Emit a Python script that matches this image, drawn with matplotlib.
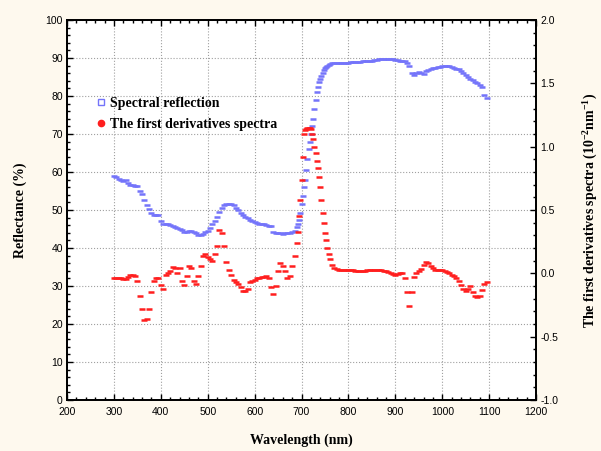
import numpy as np
import matplotlib
matplotlib.use('Agg')
import matplotlib.pyplot as plt
from matplotlib.lines import Line2D
from matplotlib.ticker import MultipleLocator, FormatStrFormatter

matplotlib.rcParams['mathtext.fontset'] = 'custom'
matplotlib.rcParams['mathtext.rm'] = 'Liberation Serif:bold'
matplotlib.rcParams['mathtext.bf'] = 'Liberation Serif:bold'

# wavelengths (nm); denser on the red-edge rise
wavelength = np.concatenate([np.arange(300, 690, 5),
                             np.arange(690, 760, 2.5),
                             np.arange(760, 1100, 5)])

# spectral reflection (%), left axis
reflectance = [
    # 300 - 685
    58.9, 58.8, 58.3, 57.8, 57.6, 57.8, 57.2, 56.6, 56.5, 56.4,
    56.2, 55.0, 54.1, 52.7, 51.3, 50.2, 49.3, 48.8, 48.7, 48.6,
    47.0, 46.4, 46.2, 46.2, 46.1, 45.8, 45.5, 45.3, 45.1, 44.8,
    44.2, 44.3, 44.6, 44.6, 44.3, 44.0, 43.5, 43.4, 43.8, 44.3,
    44.6, 45.3, 46.3, 47.2, 48.2, 49.4, 50.6, 51.4, 51.7, 51.7,
    51.5, 51.3, 50.6, 50.0, 49.3, 48.8, 48.3, 47.8, 47.4, 47.0,
    46.8, 46.5, 46.4, 46.3, 46.2, 46.1, 45.9, 45.7, 44.2, 43.9,
    43.9, 43.9, 43.8, 43.9, 43.9, 44.0, 44.2, 44.6,
    # 690 - 757.5
    45.5, 46.2, 47.5, 49.3, 51.5, 53.8, 56.0, 58.0, 60.5, 63.5,
    66.0, 68.0, 69.9, 72.0, 73.9, 76.5, 79.0, 81.0, 82.5, 83.7,
    84.6, 85.4, 86.0, 86.8, 87.4, 87.7, 88.0, 88.2,
    # 760 - 1095
    88.4, 88.6, 88.7, 88.7, 88.6, 88.7, 88.8, 88.8,
    88.8, 88.9, 88.9, 89.0, 89.0, 89.0, 89.1, 89.1, 89.2, 89.2,
    89.3, 89.4, 89.6, 89.7, 89.7, 89.7, 89.7, 89.7, 89.7, 89.7,
    89.6, 89.4, 89.2, 89.1, 89.1, 88.8, 87.8, 86.0, 85.6, 86.2,
    86.3, 86.0, 85.9, 86.5, 86.9, 87.2, 87.4, 87.5, 87.6, 87.7,
    87.8, 87.9, 87.9, 87.8, 87.6, 87.4, 87.2, 87.0, 86.7, 86.2,
    85.5, 85.0, 84.5, 84.2, 83.7, 83.4, 83.0, 82.5, 80.3, 79.6,
]

# first derivative spectrum (10^-2 nm^-1), right axis
derivative = [
    # 300 - 685
    -0.035, -0.035, -0.035, -0.04, -0.045, -0.048, -0.025, -0.012, -0.01, -0.02,
    -0.06, -0.18, -0.28, -0.37, -0.36, -0.28, -0.15, -0.06, -0.035, -0.04,
    -0.09, -0.12, -0.01, 0.0, 0.02, 0.05, 0.04, 0.0, 0.04, -0.06,
    -0.09, -0.02, 0.06, 0.04, -0.06, -0.08, -0.02, 0.06, 0.14, 0.15,
    0.13, 0.11, 0.10, 0.15, 0.22, 0.34, 0.32, 0.22, 0.09, 0.03,
    -0.01, -0.05, -0.065, -0.085, -0.11, -0.14, -0.14, -0.12, -0.07, -0.06,
    -0.05, -0.04, -0.035, -0.03, -0.025, -0.02, -0.04, -0.11, -0.165, -0.10,
    0.02, 0.08, 0.06, 0.02, -0.04, -0.02, 0.06, 0.14,
    # 690 - 757.5
    0.24, 0.33, 0.45, 0.58, 0.74, 0.92, 1.10, 1.13, 1.14, 1.15,
    1.15, 1.15, 1.14, 1.10, 1.06, 1.00, 0.95, 0.89, 0.83, 0.76,
    0.68, 0.58, 0.48, 0.40, 0.32, 0.26, 0.20, 0.15,
    # 760 - 1095
    0.115, 0.07, 0.045, 0.036, 0.03, 0.03, 0.028, 0.027,
    0.026, 0.025, 0.024, 0.022, 0.02, 0.02, 0.02, 0.022, 0.024, 0.026,
    0.026, 0.027, 0.027, 0.027, 0.026, 0.022, 0.016, 0.008, 0.003, -0.008,
    -0.015, -0.008, 0.003, 0.005, -0.04, -0.15, -0.26, -0.15, -0.03, 0.0,
    0.02, 0.035, 0.065, 0.088, 0.085, 0.06, 0.045, 0.03, 0.03, 0.03,
    0.028, 0.02, 0.01, 0.0, -0.01, -0.02, -0.04, -0.06, -0.09, -0.12,
    -0.14, -0.12, -0.10, -0.15, -0.18, -0.19, -0.18, -0.13, -0.08, -0.07,
]

legend_labels = ['Spectral reflection', 'The first derivatives spectra']
blue = '#7474FA'
red = '#FF1E1E'

fig = plt.figure(figsize=(6.01, 4.51), dpi=100, facecolor='#FEF9EE')
ax = fig.add_axes([0.1115, 0.113, 0.7805, 0.8425])
ax.set_facecolor('white')
ax2 = ax.twinx()

ax.plot(wavelength, reflectance, ls='none', marker='_', ms=5, mew=1.8, color=blue)
ax2.plot(wavelength, derivative, ls='none', marker='_', ms=4.5, mew=1.8, color=red)

ax.set_xlim(200, 1200)
ax.set_ylim(0, 100)
ax2.set_ylim(-1.0, 2.0)

ax.xaxis.set_major_locator(MultipleLocator(100))
ax.xaxis.set_minor_locator(MultipleLocator(20))
ax.yaxis.set_major_locator(MultipleLocator(10))
ax.yaxis.set_minor_locator(MultipleLocator(2))
ax2.yaxis.set_major_locator(MultipleLocator(0.5))
ax2.yaxis.set_minor_locator(MultipleLocator(0.1))
ax2.yaxis.set_major_formatter(FormatStrFormatter('%.1f'))

ax.grid(True, which='major', ls=':', color='#A0A0A0', lw=0.8)
ax.set_axisbelow(True)

ax.tick_params(which='both', direction='in', top=True, right=False, width=1)
ax.tick_params(which='major', length=4, labelsize=7.5)
ax.tick_params(axis='x', which='major', pad=5)
ax.tick_params(axis='y', which='major', pad=3)
ax.tick_params(which='minor', length=2)
ax2.tick_params(which='both', direction='in', width=1)
ax2.tick_params(which='major', length=4, labelsize=7.5, pad=3)
ax2.tick_params(which='minor', length=2)
for lab in ax.get_xticklabels() + ax.get_yticklabels() + ax2.get_yticklabels():
    lab.set_fontfamily('Liberation Sans')

for a in (ax, ax2):
    for s in a.spines.values():
        s.set_linewidth(1.3)

label_font = dict(family='Liberation Serif', weight='bold', size=10)
ax.set_xlabel('Wavelength (nm)', labelpad=12, **label_font)
ax.set_ylabel('Reflectance (%)', labelpad=13, **label_font)
ax2.set_ylabel(r'The first derivatives spectra (10$^{-2}$nm$^{-1}$)',
               labelpad=16, **label_font)

handles = [
    Line2D([], [], ls='none', marker='s', ms=4, mfc='white', mec=blue, mew=1),
    Line2D([], [], ls='none', marker='o', ms=4.5, color=red),
]
ax2.legend(handles, legend_labels, loc='upper left', bbox_to_anchor=(0.03, 0.83),
           frameon=False, handletextpad=0.2, handlelength=1.0, labelspacing=0.55,
           prop=dict(family='Liberation Serif', weight='bold', size=10))

fig.savefig('out.png', dpi=100, facecolor=fig.get_facecolor())
